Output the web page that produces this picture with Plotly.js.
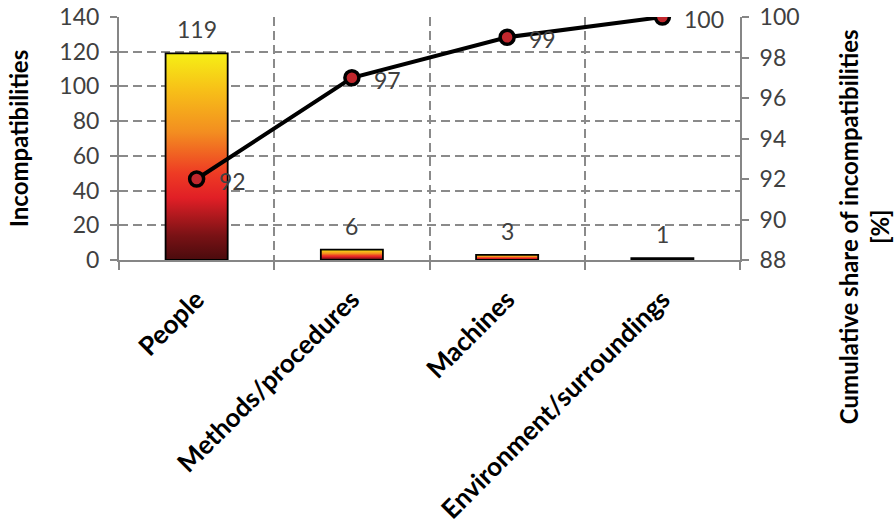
<!DOCTYPE html>
<html>
<head>
<meta charset="utf-8">
<script src="https://cdn.plot.ly/plotly-3.0.1.min.js"></script>
<style>
  html, body { margin: 0; padding: 0; background: #fff; }
  #chart { width: 895px; height: 532px; }
</style>
</head>
<body>
<div id="chart"></div>
<script>
// Pareto chart of incompatibilities by cause
const categories = ['People', 'Methods/procedures', 'Machines', 'Environment/surroundings'];
const incompatibilities = [119, 6, 3, 1];
const cumulativeShare = [92, 97, 99, 100];
const leftTicks = [0, 20, 40, 60, 80, 100, 120, 140];
const rightTicks = [88, 90, 92, 94, 96, 98, 100];

const FONT = 'Lato, "Open Sans", sans-serif';
const GRID = '#8a8a8a';
const AXIS = '#868686';
const TEXT = '#404040';
const DASH = '9px,5px';
const BAR_HALF = 0.2;

// vertical gradient: dark red at the base to yellow at the top
const barGradient = [
  [0.00, '#4a0b0d'],
  [0.12, '#7a1215'],
  [0.30, '#e11f26'],
  [0.42, '#ee3b24'],
  [0.62, '#f38e20'],
  [0.82, '#f7bf18'],
  [1.00, '#f6ef15']
];

// each bar is a filled rectangle so it can carry a gradient fill
const barTraces = incompatibilities.map((v, i) => ({
  type: 'scatter',
  mode: 'lines',
  x: [i - BAR_HALF, i + BAR_HALF, i + BAR_HALF, i - BAR_HALF, i - BAR_HALF],
  y: [0, 0, v, v, 0],
  fill: 'toself',
  fillgradient: { type: 'vertical', colorscale: barGradient },
  line: { color: '#000', width: 1.8 },
  hoverinfo: 'skip',
  showlegend: false
}));

const cumulativeTrace = {
  type: 'scatter',
  mode: 'lines+markers',
  x: categories.map((_, i) => i),
  y: cumulativeShare,
  yaxis: 'y2',
  line: { color: '#000', width: 4 },
  marker: { size: 14, color: '#c1272d', line: { color: '#000', width: 3.5 } },
  showlegend: false
};

const barLabels = incompatibilities.map((v, i) => ({
  x: i, y: v, xref: 'x', yref: 'y',
  text: String(v), showarrow: false, yshift: 24,
  font: { family: FONT, size: 23, color: TEXT }
}));

const shareLabels = cumulativeShare.map((v, i) => ({
  x: i, y: v, xref: 'x', yref: 'y2',
  text: String(v), showarrow: false, xanchor: 'left', xshift: 20, yshift: -2,
  font: { family: FONT, size: 23, color: TEXT }
}));

const rightTitle = {
  xref: 'paper', yref: 'paper', x: 1.2, y: 0.136,
  xanchor: 'center', yanchor: 'middle', textangle: -90,
  text: 'Cumulative share of incompatibilities<br>[%]',
  showarrow: false, align: 'center',
  font: { family: FONT, size: 24, color: '#000', weight: 'bold' }
};

const layout = {
  width: 895,
  height: 532,
  margin: { l: 119, r: 155, t: 17, b: 272 },
  paper_bgcolor: '#fff',
  plot_bgcolor: '#fff',
  font: { family: FONT, color: TEXT },
  showlegend: false,
  xaxis: {
    range: [-0.5, 3.5],
    tickvals: categories.map((_, i) => i),
    ticktext: categories,
    tickangle: -45,
    ticks: '',
    ticklabelstandoff: 12,
    showgrid: false,
    zeroline: false,
    showline: true, linecolor: AXIS, linewidth: 2,
    tickfont: { family: FONT, size: 26, color: '#000', weight: 'bold' },
    minor: {
      tickmode: 'linear', tick0: -0.5, dtick: 1,
      showgrid: true, gridcolor: GRID, gridwidth: 2, griddash: DASH,
      ticks: 'outside', ticklen: 8, tickwidth: 2, tickcolor: AXIS
    },
    fixedrange: true
  },
  yaxis: {
    range: [0, 140],
    tickvals: leftTicks,
    showgrid: true, gridcolor: GRID, gridwidth: 2, griddash: DASH,
    zeroline: false,
    showline: true, linecolor: AXIS, linewidth: 2,
    ticks: 'outside', ticklen: 7, tickwidth: 2, tickcolor: AXIS,
    ticklabelstandoff: 6,
    tickfont: { family: FONT, size: 23, color: TEXT },
    title: { text: 'Incompatibilities', standoff: 24,
             font: { family: FONT, size: 24, color: '#000', weight: 'bold' } },
    fixedrange: true
  },
  yaxis2: {
    overlaying: 'y',
    side: 'right',
    anchor: 'x',
    range: [88, 100],
    tickvals: rightTicks,
    showgrid: false,
    zeroline: false,
    showline: true, linecolor: AXIS, linewidth: 2,
    ticks: 'outside', ticklen: 7, tickwidth: 2, tickcolor: AXIS,
    ticklabelstandoff: 6,
    tickfont: { family: FONT, size: 23, color: TEXT },
    fixedrange: true
  },
  annotations: [...barLabels, ...shareLabels, rightTitle]
};

Plotly.newPlot('chart', [...barTraces, cumulativeTrace], layout, { displayModeBar: false, staticPlot: true });
</script>
</body>
</html>
